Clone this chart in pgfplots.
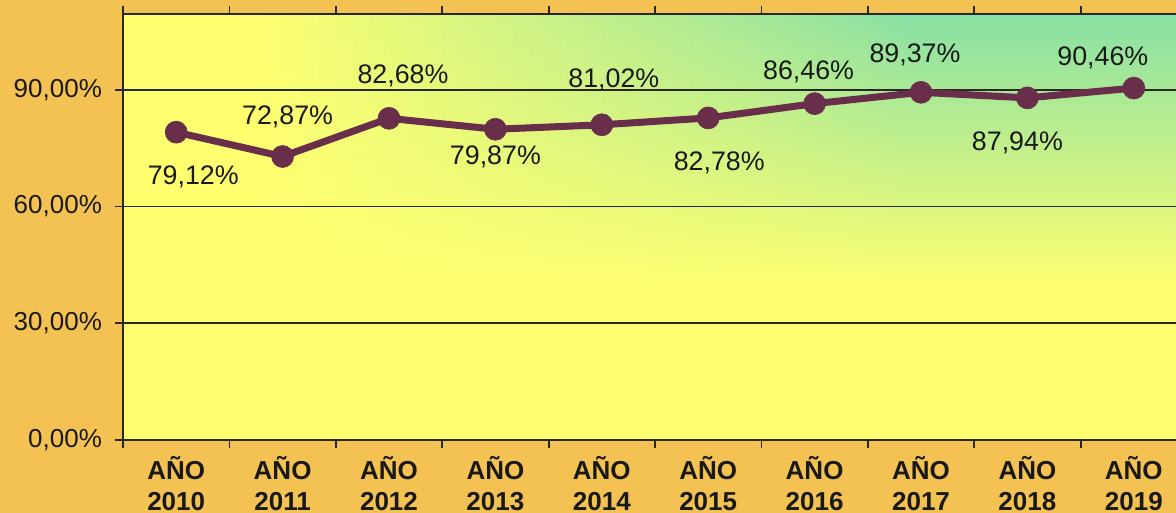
\documentclass[border=0pt]{standalone}
\usepackage{pgfplots}
\pgfplotsset{compat=1.18}
\usepackage{pgfplotstable}
\usepackage{fontspec}
\setmainfont{Liberation Sans}
\definecolor{bgorange}{RGB}{244,194,82}
\definecolor{plotyellow}{RGB}{255,255,112}
\definecolor{plotgreen}{RGB}{136,224,165}
\definecolor{linecol}{RGB}{104,46,74}
\definecolor{gridcol}{RGB}{40,40,40}

\pgfplotstableread{
x y dx dy
0 79.12 8.5 -22.5
1 72.87 2.5 20
2 82.68 7 21
3 79.87 0 -14
4 81.02 6 22.5
5 82.78 5.5 -22.5
6 86.46 -3 16
7 89.37 -3 18.5
8 87.94 -5 -22.5
9 90.46 -15.5 15
}\datatable

\begin{document}
\begin{tikzpicture}
\fill[bgorange] (-61.5pt,-36.5pt) rectangle (526.5pt,220pt);
\fill[plotyellow] (0,0) rectangle (532pt,213pt);
\foreach \i in {0,...,59}{
  \pgfmathsetmacro{\f}{(\i+0.5)/60}
  \pgfmathsetmacro{\g}{100*min(1,max(0,(\f-0.12)/0.62))}
  \pgfmathsetmacro{\gm}{0.45*\g}
  \pgfmathsetmacro{\xa}{\i*8.86667}
  \pgfmathsetmacro{\xb}{(\i+1)*8.86667+0.4}
  \shade[top color=plotgreen!\g!plotyellow, middle color=plotgreen!\gm!plotyellow, bottom color=plotyellow]
    (\xa pt,75pt) rectangle (\xb pt,213pt);
}
\begin{axis}[
  at={(0,0)}, anchor=south west, scale only axis,
  width=532pt, height=213pt,
  xmin=-0.5, xmax=9.5, ymin=0, ymax=109.5,
  /pgf/number format/assume math mode=true,
  xtick={0,...,9},
  xticklabels={{AÑO\\2010},{AÑO\\2011},{AÑO\\2012},{AÑO\\2013},{AÑO\\2014},{AÑO\\2015},{AÑO\\2016},{AÑO\\2017},{AÑO\\2018},{AÑO\\2019}},
  xticklabel style={align=center, font=\fontsize{13}{15.5}\selectfont\bfseries, text=black!90, yshift=-0.5pt},
  ytick={0,30,60,90},
  yticklabels={{0,00\%},{30,00\%},{60,00\%},{90,00\%}},
  yticklabel style={font=\fontsize{13}{15}\selectfont, text=black!90, xshift=-3pt},
  tick align=outside,
  major tick length=4pt,
  minor tick length=4pt,
  major x tick style={draw=none},
  minor xtick={-0.5,0.5,...,8.5},
  minor x tick style={gridcol, line width=0.9pt},
  ytick style={gridcol, line width=0.9pt},
  ymajorgrids,
  major grid style={gridcol, line width=0.9pt},
  axis line style={gridcol, line width=1pt},
  clip=false,
]
\addplot[linecol, line width=3.5pt, line join=round,
  mark=*, mark size=5.5pt, mark options={fill=linecol, draw=linecol, line width=0.3pt},
  visualization depends on={\thisrow{dx}\as\ldx},
  visualization depends on={\thisrow{dy}\as\ldy},
  nodes near coords={\pgfmathprintnumber[fixed,fixed zerofill,precision=2,use comma]{\pgfplotspointmeta}\%},
  every node near coord/.append style={anchor=center, xshift=\ldx pt, yshift=\ldy pt, text=black!90, font=\fontsize{13.4}{16}\selectfont},
  point meta=explicit,
] table[x=x, y=y, meta=y]{\datatable};
\end{axis}
\pgfresetboundingbox
\path[use as bounding box] (-61.5pt,-36.5pt) rectangle (526.5pt,220pt);
\end{tikzpicture}
\end{document}
